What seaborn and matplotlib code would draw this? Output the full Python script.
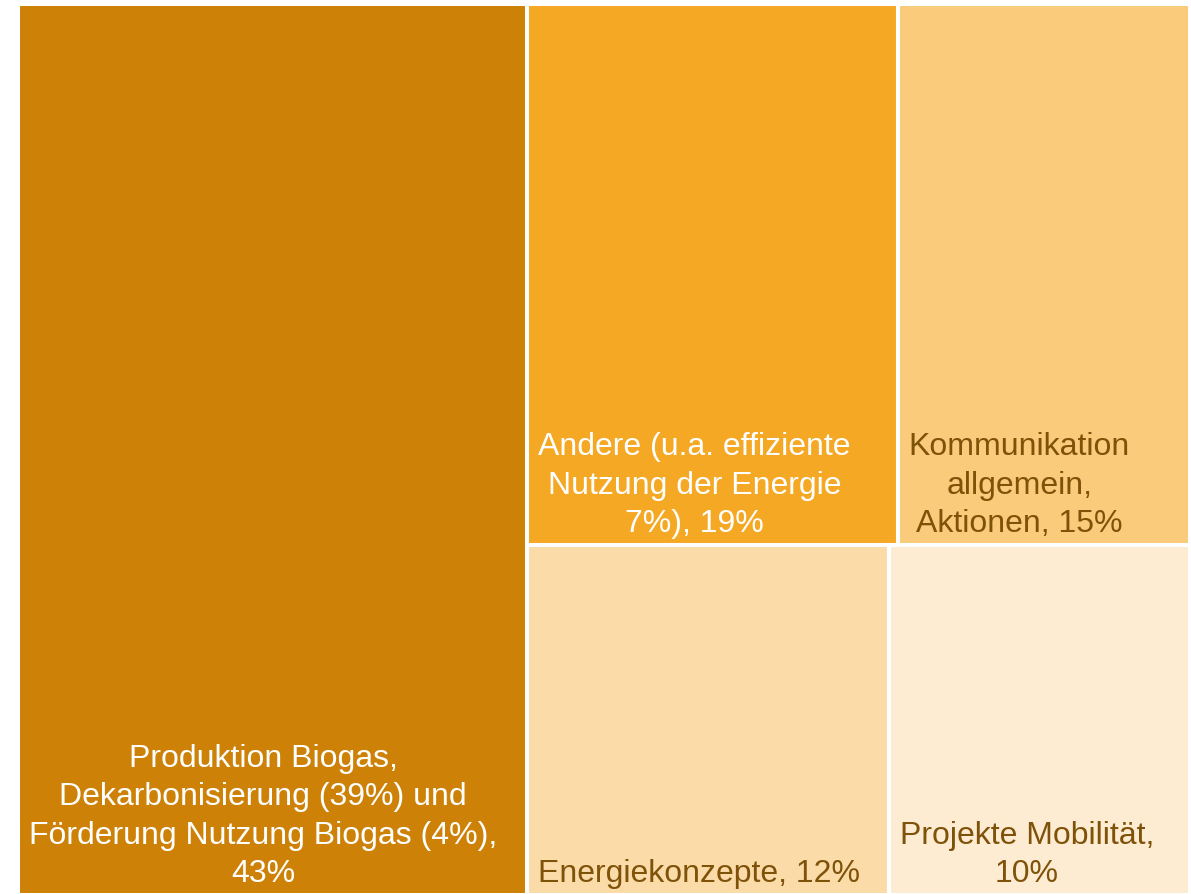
import matplotlib
matplotlib.use("Agg")
import matplotlib.pyplot as plt
import seaborn as sns

# --- Daten ---
LABELS = [
    "Produktion Biogas,\nDekarbonisierung (39%) und\nFörderung Nutzung Biogas (4%),\n43%",
    "Andere (u.a. effiziente\nNutzung der Energie\n7%), 19%",
    "Kommunikation\nallgemein,\nAktionen, 15%",
    "Energiekonzepte, 12%",
    "Projekte Mobilität,\n10%",
]
VALUES = [43, 19, 15, 12, 10]
COLORS = ["#CD8207", "#F5A824", "#F9CB7B", "#FBDCA9", "#FDEBD2"]
TEXT_COLORS = ["white", "white", "#7F5209", "#7F5209", "#7F5209"]

W, H = 1172.0, 891.0


def worst(row, side):
    s = sum(row)
    return max(max(side * side * r / (s * s), s * s / (side * side * r)) for r in row)


def squarify(values, x, y, w, h):
    # einfache squarify-Variante, y nach unten
    total = sum(values)
    areas = [v * w * h / total for v in values]
    rects = []
    while areas:
        side = min(w, h)
        row = [areas[0]]
        i = 1
        while i < len(areas) and worst(row + [areas[i]], side) <= worst(row, side):
            row.append(areas[i])
            i += 1
        s = sum(row)
        if w >= h:
            rw = s / h
            yy = y
            for a in row:
                rects.append((x, yy, rw, a / rw))
                yy += a / rw
            x += rw
            w -= rw
        else:
            rh = s / w
            xx = x
            for a in row:
                rects.append((xx, y, a / rh, rh))
                xx += a / rh
            y += rh
            h -= rh
        areas = areas[i:]
    return rects


sns.set_theme(style="white")
plt.rcParams["font.family"] = ["Liberation Sans", "DejaVu Sans"]

fig = plt.figure(figsize=(11.91, 8.94), dpi=100)
ax = fig.add_axes([18 / 1191, -1 / 894, 1172 / 1191, 891 / 894])

rects = squarify(VALUES, 0, 0, W, H)
for (x, y, w, h), c, lab, tc in zip(rects, COLORS, LABELS, TEXT_COLORS):
    ax.bar(x, h, width=w, bottom=y, align="edge", color=c,
           edgecolor="white", linewidth=2.9)
    ax.text(x + 11, y + h - 6, lab, ha="left", va="bottom",
            multialignment="center", color=tc, fontsize=23,
            linespacing=1.36)

ax.set_xlim(0, W)
ax.set_ylim(H, 0)
ax.axis("off")

fig.savefig("out.png", dpi=100)
plt.close()
